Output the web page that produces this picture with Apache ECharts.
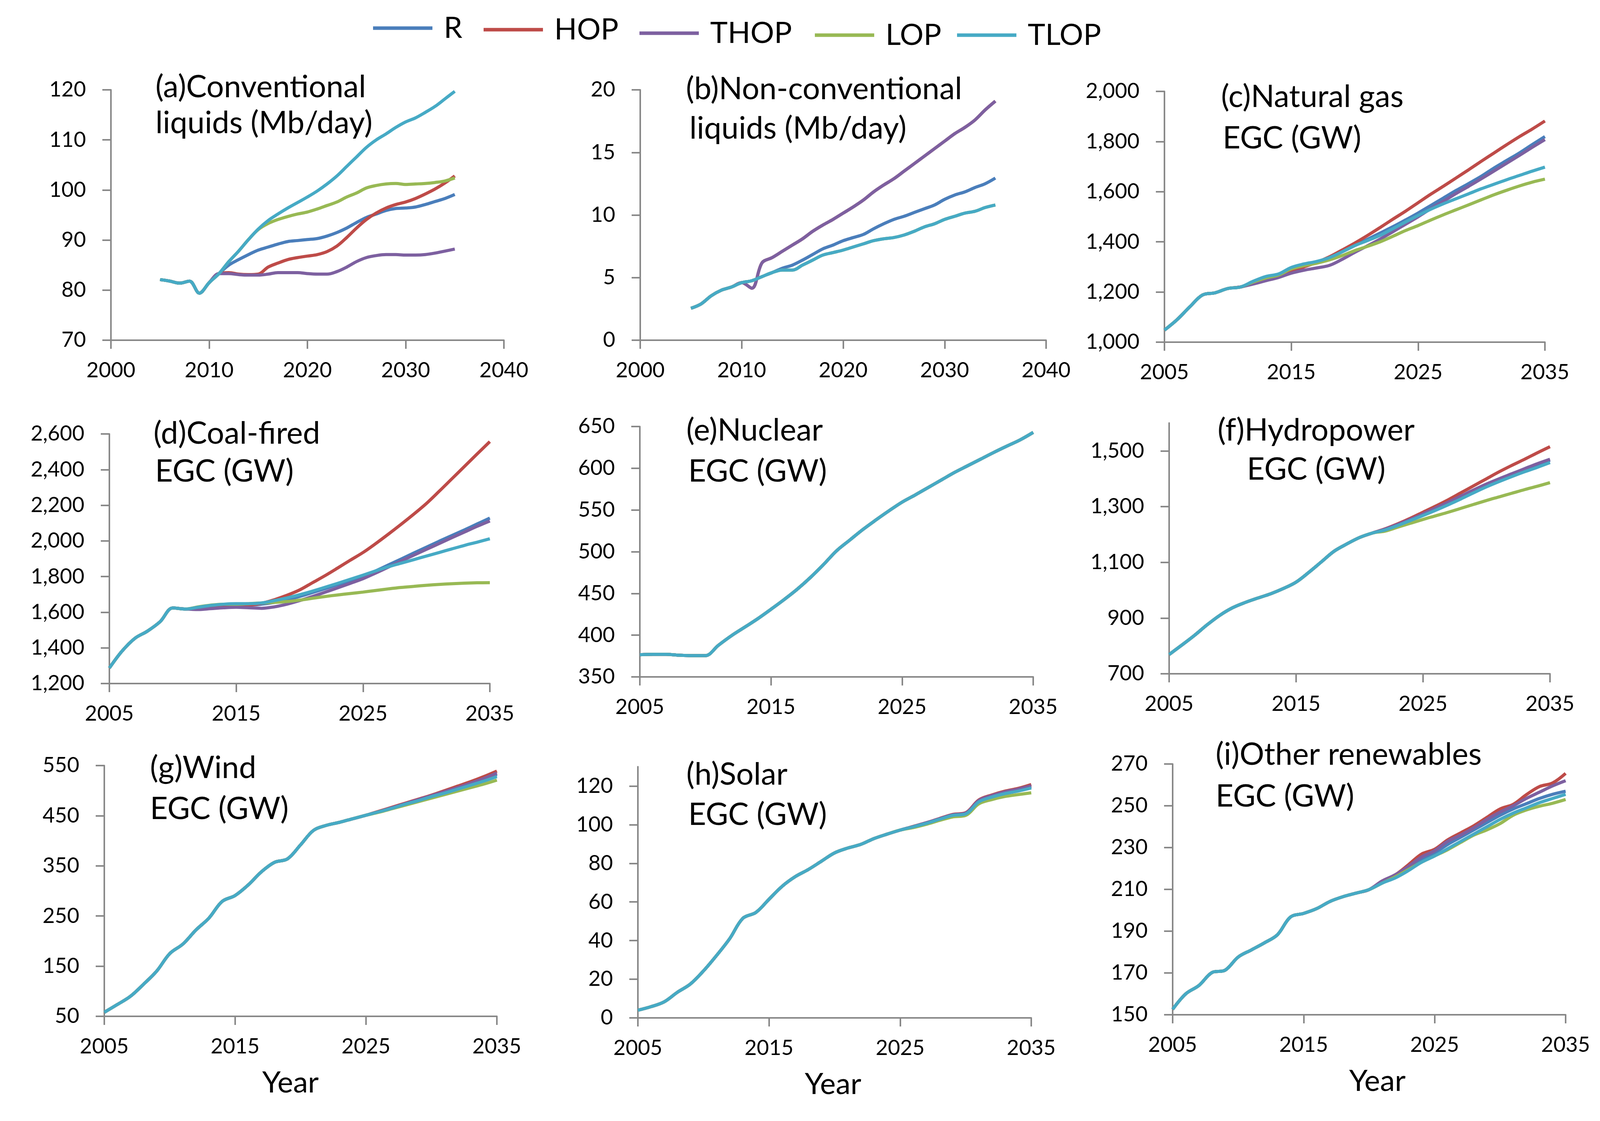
<!DOCTYPE html>
<html>
<head>
<meta charset="utf-8">
<script src="https://cdn.jsdelivr.net/npm/echarts@6/dist/echarts.min.js"></script>
<style>html,body{margin:0;padding:0;background:#fff}#c{width:4138px;height:2870px}</style>
</head>
<body>
<div id="c"></div>
<script>
// ---------- categories ----------
const yearsWide = [2000,2001,2002,2003,2004,2005,2006,2007,2008,2009,2010,2011,2012,2013,2014,2015,2016,2017,2018,2019,2020,2021,2022,2023,2024,2025,2026,2027,2028,2029,2030,2031,2032,2033,2034,2035,2036,2037,2038,2039,2040];
const years = [2005,2006,2007,2008,2009,2010,2011,2012,2013,2014,2015,2016,2017,2018,2019,2020,2021,2022,2023,2024,2025,2026,2027,2028,2029,2030,2031,2032,2033,2034,2035];
const seriesNames = ['R','HOP','THOP','LOP','TLOP'];

// ---------- (a) Conventional liquids (2005-2035) ----------
const aHist = [82.1,81.8,81.4,81.8,79.4,81.5,83.3];
const aR    = [85.0,86.1,87.1,88.0,88.6,89.2,89.7,89.9,90.1,90.3,90.8,91.5,92.4,93.5,94.5,95.2,95.9,96.3,96.4,96.6,97.1,97.7,98.3,99.1];
const aHOP  = [83.5,83.2,83.1,83.2,84.6,85.4,86.1,86.5,86.8,87.1,87.7,88.8,90.5,92.4,94.1,95.4,96.4,97.1,97.6,98.3,99.2,100.2,101.4,102.8];
const aTHOP = [83.3,83.1,83.0,83.0,83.2,83.5,83.5,83.5,83.3,83.2,83.2,83.7,84.6,85.7,86.5,86.9,87.1,87.1,87.0,87.0,87.1,87.4,87.8,88.2];
const aLOP  = [85.7,87.8,90.1,92.1,93.3,94.1,94.7,95.2,95.6,96.2,96.9,97.6,98.6,99.4,100.4,100.9,101.2,101.3,101.1,101.2,101.3,101.5,101.8,102.4];
const aTLOP = [85.7,87.8,90.1,92.2,93.9,95.2,96.4,97.5,98.6,99.8,101.2,102.8,104.7,106.6,108.5,110.0,111.2,112.5,113.6,114.4,115.5,116.7,118.2,119.7];

// ---------- (b) Non-conventional liquids ----------
const bHist = [2.55,2.9,3.55,4.0,4.25,4.6];
const bR    = [4.75,5.08,5.4,5.75,6.0,6.4,6.85,7.3,7.6,7.95,8.2,8.45,8.9,9.3,9.65,9.9,10.2,10.5,10.8,11.25,11.6,11.85,12.2,12.5,12.95];
const bHOP  = [4.15,6.18,6.6,7.1,7.6,8.1,8.7,9.2,9.65,10.15,10.65,11.2,11.85,12.4,12.9,13.5,14.1,14.7,15.3,15.9,16.5,17.0,17.6,18.4,19.1];
const bTHOP = [4.15,6.18,6.6,7.1,7.6,8.1,8.7,9.2,9.65,10.15,10.65,11.2,11.85,12.4,12.9,13.5,14.1,14.7,15.3,15.9,16.5,17.0,17.6,18.4,19.1];
const bLOP  = [4.75,5.08,5.4,5.6,5.6,6.0,6.4,6.8,7.0,7.2,7.45,7.7,7.95,8.1,8.2,8.4,8.7,9.05,9.3,9.65,9.9,10.15,10.3,10.6,10.8];
const bTLOP = [4.75,5.08,5.4,5.6,5.6,6.0,6.4,6.8,7.0,7.2,7.45,7.7,7.95,8.1,8.2,8.4,8.7,9.05,9.3,9.65,9.9,10.15,10.3,10.6,10.8];

// ---------- (c) Natural gas EGC ----------
const cHist = [1048,1090,1141,1188,1197,1214,1220];
const cR    = [1238,1254,1266,1285,1302,1318,1335,1360,1385,1410,1435,1460,1487,1515,1545,1575,1605,1633,1662,1695,1725,1755,1788,1820];
const cHOP  = [1236,1250,1262,1282,1300,1318,1340,1367,1395,1425,1457,1490,1522,1556,1590,1622,1655,1688,1722,1755,1788,1820,1850,1882];
const cTHOP = [1232,1245,1258,1275,1287,1296,1306,1330,1358,1384,1411,1440,1470,1500,1532,1562,1593,1622,1652,1683,1714,1745,1777,1808];
const cLOP  = [1240,1256,1268,1292,1305,1315,1328,1345,1365,1382,1400,1422,1445,1465,1487,1508,1528,1548,1568,1588,1606,1623,1638,1650];
const cTLOP = [1243,1262,1272,1298,1312,1322,1337,1360,1385,1405,1426,1452,1479,1505,1530,1552,1572,1592,1612,1630,1648,1665,1682,1698];

// ---------- (d) Coal-fired EGC ----------
const dHist = [1287,1382,1453,1494,1547,1624,1618];
const dR    = [1625,1630,1635,1640,1640,1645,1655,1670,1688,1710,1732,1755,1778,1800,1832,1865,1898,1932,1965,1998,2030,2062,2095,2128];
const dHOP  = [1622,1628,1635,1640,1640,1650,1670,1695,1725,1765,1805,1848,1892,1935,1985,2038,2093,2150,2210,2278,2348,2418,2488,2557];
const dTHOP = [1615,1620,1625,1628,1625,1622,1630,1645,1665,1688,1712,1737,1762,1788,1820,1853,1887,1920,1953,1985,2018,2050,2082,2112];
const dLOP  = [1630,1640,1645,1645,1648,1652,1655,1660,1668,1678,1688,1697,1705,1713,1722,1731,1739,1745,1751,1756,1760,1763,1765,1766];
const dTLOP = [1628,1638,1645,1648,1648,1652,1665,1680,1698,1718,1740,1762,1785,1808,1832,1855,1875,1895,1915,1935,1955,1975,1993,2012];

// ---------- (e) Nuclear EGC (all scenarios identical) ----------
const eAll = [376.6,377,377,376,375.5,375.5,388,399.5,409.6,419.8,431,442.6,455,469,484.5,501,513.8,526.5,538,549,559.4,568,577,586,595,603,611,619,626.6,634,643];

// ---------- (f) Hydropower EGC ----------
const fHist = [769,803,838,876,910,937,956,972,987,1006,1029,1064,1102,1140,1166,1189,1205];
const fR    = [1218,1234,1252,1272,1292,1313,1335,1357,1378,1396,1414,1432,1450,1466];
const fHOP  = [1220,1238,1258,1280,1302,1325,1350,1375,1400,1425,1448,1470,1493,1515];
const fTHOP = [1219,1236,1254,1274,1295,1316,1338,1360,1381,1400,1418,1436,1454,1470];
const fLOP  = [1212,1226,1240,1254,1267,1280,1294,1308,1322,1335,1348,1361,1373,1386];
const fTLOP = [1216,1232,1250,1268,1287,1307,1328,1350,1371,1390,1408,1425,1441,1458];

// ---------- (g) Wind EGC ----------
const gHist = [58,73.6,90,114,140,175,194,222,246,279,291,312,338,357,364,392,421,431,437,444,451];
const gR    = [458,466,473,481,489,497,505,513,522,532];
const gHOP  = [459,467,475,483,491,500,509,518,528,539];
const gTHOP = [458,466,474,482,490,498,506,515,524,535];
const gLOP  = [457,464,471,478,485,492,499,506,513,521];
const gTLOP = [458,465,473,480,488,495,503,511,519,528];

// ---------- (h) Solar EGC ----------
const hHist = [3.95,5.8,8.3,13.2,17.5,24.3,32.3,41,51.5,54.6,61.4,68.1,73.1,76.8,81.1,85.4,87.9,89.8,92.8,95.1,97.2];
const hR    = [99.0,100.9,103.0,105.0,105.8,112.2,114.8,116.7,118.0,119.6];
const hHOP  = [99.1,101.0,103.2,105.3,106.2,112.8,115.4,117.4,118.8,120.8];
const hTHOP = [99.0,101.0,103.1,105.1,106.0,112.5,115.1,117.0,118.4,120.1];
const hLOP  = [98.5,100.2,102.2,104.0,104.8,110.8,113.0,114.6,115.6,116.5];
const hTLOP = [98.9,100.7,102.8,104.8,105.6,111.8,114.3,116.1,117.4,119.0];

// ---------- (i) Other renewables EGC ----------
const iHist = [152.6,160,164,170.2,171.3,177.6,181,184.4,188.3,196.8,198.5,200.8,204.2,206.5,208.2,209.9];
const iR    = [213.5,216.5,220.5,224.5,227.5,231.5,235,238.5,242,245.5,248.5,251,253.5,255.5,257];
const iHOP  = [214,217,221.8,226.9,229.2,233.7,237.1,240.5,244.5,248.5,250.7,255.3,259.2,260.9,265.5];
const iTHOP = [214,217,221,225.5,228.5,233,236,239.5,243.5,247,250,253.5,256.5,259.5,262];
const iLOP  = [213,216,219.5,223,226,229,232.5,236,238.5,241.5,245.5,248,249.8,251.2,253];
const iTLOP = [213,215.5,219,223,226,229.5,233,236.5,240,243.5,246.5,249,251.5,253.5,255.5];

// ---------- y tick labels ----------
const aTicks = [70,80,90,100,110,120];
const bTicks = [0,5,10,15,20];
const cTicks = [1000,1200,1400,1600,1800,2000];
const dTicks = [1200,1400,1600,1800,2000,2200,2400,2600];
const eTicks = [350,400,450,500,550,600,650];
const fTicks = [700,900,1100,1300,1500];
const gTicks = [50,150,250,350,450,550];
const hTicks = [0,20,40,60,80,100,120];
const iTicks = [150,170,190,210,230,250,270];

// ---------- style ----------
const COLORS = {R:'#4A7EBB', HOP:'#BE4B48', THOP:'#7D60A0', LOP:'#98B954', TLOP:'#46AAC5'};
const FONT = "Lato,'Open Sans',sans-serif";
const AXIS_COLOR = '#888888';
const TITLE_SIZE = 79, TICK_SIZE = 54, LEGEND_SIZE = 76, NAME_SIZE = 76;

function join(hist, tail){ return hist.concat(tail); }
function padWide(arr){ return [null,null,null,null,null].concat(arr, [null,null,null,null,null]); }

const panels = [
  {cats: yearsWide, wide:true, grid:{left:284,top:230,width:1006,height:641}, min:70, max:120, ticks:aTicks,
   data:{R:join(aHist,aR),HOP:join(aHist,aHOP),THOP:join(aHist,aTHOP),LOP:join(aHist,aLOP),TLOP:join(aHist,aTLOP)},
   titles:[['(a)Conventional',398,251],['liquids (Mb/day)',398,343]]},
  {cats: yearsWide, wide:true, grid:{left:1639,top:230,width:1039,height:641}, min:0, max:20, ticks:bTicks,
   data:{R:join(bHist,bR),HOP:join(bHist,bHOP),THOP:join(bHist,bTHOP),LOP:join(bHist,bLOP),TLOP:join(bHist,bTLOP)},
   titles:[['(b)Non-conventional',1756,256],['liquids (Mb/day)',1765,357]]},
  {cats: years, grid:{left:2981,top:234,width:974,height:642}, min:1000, max:2000, ticks:cTicks,
   data:{R:join(cHist,cR),HOP:join(cHist,cHOP),THOP:join(cHist,cTHOP),LOP:join(cHist,cLOP),TLOP:join(cHist,cTLOP)},
   titles:[['(c)Natural gas',3126,276],['EGC (GW)',3130,382]]},
  {cats: years, grid:{left:280,top:1111,width:974,height:639}, min:1200, max:2600, ticks:dTicks,
   data:{R:join(dHist,dR),HOP:join(dHist,dHOP),THOP:join(dHist,dTHOP),LOP:join(dHist,dLOP),TLOP:join(dHist,dTLOP)},
   titles:[['(d)Coal-fired',393,1138],['EGC (GW)',397,1235]]},
  {cats: years, grid:{left:1638,top:1092,width:1007,height:641}, min:350, max:650, ticks:eTicks,
   data:{R:eAll,HOP:eAll,THOP:eAll,LOP:eAll,TLOP:eAll},
   titles:[['(e)Nuclear',1757,1130],['EGC (GW)',1762,1235]]},
  {cats: years, grid:{left:2993,top:1083,width:975,height:642}, min:700, max:1600, ticks:fTicks,
   data:{R:join(fHist,fR),HOP:join(fHist,fHOP),THOP:join(fHist,fTHOP),LOP:join(fHist,fLOP),TLOP:join(fHist,fTLOP)},
   titles:[['(f)Hydropower',3117,1130],['EGC (GW)',3192,1230]]},
  {cats: years, grid:{left:267,top:1960,width:1005,height:642}, min:50, max:550, ticks:gTicks, year:true, yearShift:-26,
   data:{R:join(gHist,gR),HOP:join(gHist,gHOP),THOP:join(gHist,gTHOP),LOP:join(gHist,gLOP),TLOP:join(gHist,gTLOP)},
   titles:[['(g)Wind',384,1994],['EGC (GW)',384,2099]]},
  {cats: years, grid:{left:1633,top:1963,width:1007,height:643}, min:0, max:130, ticks:hTicks, year:true, yearShift:-4,
   data:{R:join(hHist,hR),HOP:join(hHist,hHOP),THOP:join(hHist,hTHOP),LOP:join(hHist,hLOP),TLOP:join(hHist,hTLOP)},
   titles:[['(h)Solar',1757,2011],['EGC (GW)',1762,2114]]},
  {cats: years, grid:{left:3002,top:1956,width:1006,height:642}, min:150, max:270, ticks:iTicks, year:true, yearShift:21,
   data:{R:join(iHist,iR),HOP:join(iHist,iHOP),THOP:join(iHist,iTHOP),LOP:join(iHist,iLOP),TLOP:join(iHist,iTLOP)},
   titles:[['(i)Other renewables',3112,1960],['EGC (GW)',3112,2067]]}
];

function fmt(v){ return String(v).replace(/\B(?=(\d{3})+(?!\d))/g, ','); }

const grids=[], xAxes=[], yAxes=[], series=[], titles=[];
panels.forEach((p, i) => {
  grids.push(Object.assign({containLabel:false}, p.grid));
  const sh = p.yearShift || 0;
  xAxes.push({
    type:'category', gridIndex:i, data:p.cats, boundaryGap:false,
    axisLine:{show:true, lineStyle:{color:AXIS_COLOR, width:4}},
    axisTick:{show:true, interval:9, length:22, lineStyle:{color:AXIS_COLOR, width:4}},
    axisLabel:{interval:9, margin:51, fontSize:TICK_SIZE, color:'#000', fontFamily:FONT},
    splitLine:{show:false},
    name: p.year ? 'Year' : '', nameLocation:'middle', nameGap:132,
    nameTextStyle:{fontSize:NAME_SIZE, color:'#000', fontFamily:FONT,
      padding: sh < 0 ? [0, -2*sh, 0, 0] : [0, 0, 0, 2*sh]}
  });
  yAxes.push({
    type:'value', gridIndex:i, min:p.min, max:p.max,
    axisLine:{show:true, lineStyle:{color:AXIS_COLOR, width:4}},
    axisTick:{show:true, length:22, customValues:p.ticks, lineStyle:{color:AXIS_COLOR, width:4}},
    axisLabel:{customValues:p.ticks, margin:64, fontSize:TICK_SIZE, color:'#000', fontFamily:FONT, formatter:fmt},
    splitLine:{show:false}
  });
  seriesNames.forEach(n => {
    series.push({
      type:'line', name:n, xAxisIndex:i, yAxisIndex:i,
      data: p.wide ? padWide(p.data[n]) : p.data[n],
      smooth:0.35, symbol:'none', connectNulls:false,
      lineStyle:{width:8, color:COLORS[n]}, itemStyle:{color:COLORS[n]}
    });
  });
  p.titles.forEach(t => {
    titles.push({text:t[0], left:t[1], top:t[2]-77, padding:0,
      textStyle:{fontSize:TITLE_SIZE, fontWeight:'normal', color:'#000', fontFamily:FONT, lineHeight:100}});
  });
});

const legendPos = [['R',955,34],['HOP',1238,38],['THOP',1637,47],['LOP',2086,52],['TLOP',2450,52]];
const legends = legendPos.map(l => ({
  data:[l[0]], left:l[1], top:l[2], padding:0, selectedMode:false,
  icon:'rect', itemWidth:152, itemHeight:9,
  textStyle:{fontSize:LEGEND_SIZE, color:'#000', fontFamily:FONT, padding:[0,0,0,24]}
}));

const chart = echarts.init(document.getElementById('c'), null, {renderer:'canvas', width:4138, height:2870});
chart.setOption({
  animation:false,
  backgroundColor:'#ffffff',
  title:titles, legend:legends, grid:grids, xAxis:xAxes, yAxis:yAxes, series:series
});
</script>
</body>
</html>
